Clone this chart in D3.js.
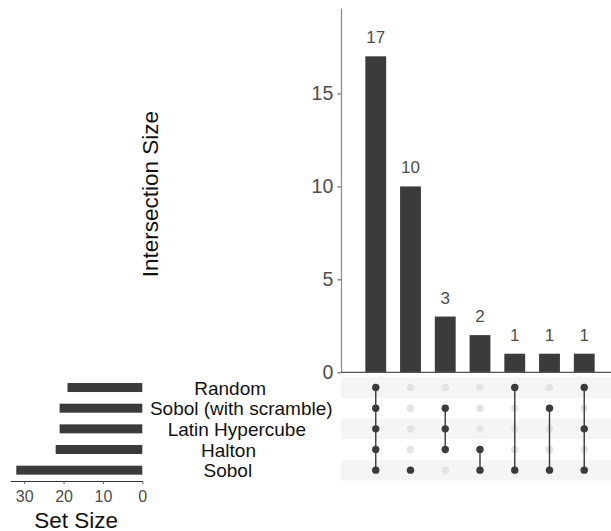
<!DOCTYPE html>
<html>
<head>
<meta charset="utf-8">
<script src="https://cdn.jsdelivr.net/npm/d3@7"></script>
<style>
  html, body { margin: 0; padding: 0; background: #fff; }
  svg { display: block; font-family: "Liberation Sans", Arial, sans-serif; }
</style>
</head>
<body>
<svg id="chart" width="611" height="531"></svg>
<script>
// Sets, from top row to bottom row of the matrix
const sets = ["Random", "Sobol (with scramble)", "Latin Hypercube", "Halton", "Sobol"];
const setSizes = [19, 21, 21, 22, 32];

// Intersections, ordered by size
const intersectionSizes = [17, 10, 3, 2, 1, 1, 1];
const intersectionMembers = [
  ["Random", "Sobol (with scramble)", "Latin Hypercube", "Halton", "Sobol"],
  ["Sobol"],
  ["Sobol (with scramble)", "Latin Hypercube", "Halton"],
  ["Halton", "Sobol"],
  ["Random", "Sobol"],
  ["Sobol (with scramble)", "Sobol"],
  ["Random", "Latin Hypercube", "Sobol"]
];

const yTicks = [0, 5, 10, 15];
const setTicks = [0, 10, 20, 30];

const svg = d3.select("#chart");
const W = 611;
const dark = "#3b3b3b";
const tickGrey = "#4d4d4d";

// ---- layout ----
const matrixLeft = 341;
const colStep = 34.75;
const x = d3.scaleLinear().domain([0, 8]).range([matrixLeft, matrixLeft + 8 * colStep]);
const colX = i => x(i + 1);

const y = d3.scaleLinear().domain([0, 19.6]).range([372.3, 8]);

const row = d3.scaleBand().domain(sets).range([377.2, 480.5]).padding(0);
const rowY = s => row(s) + row.bandwidth() / 2;

const sx = d3.scaleLinear().domain([0, 33.6]).range([142.3, 10]);

// ---- intersection size bars ----
const barW = colStep * 0.6;
const main = svg.append("g");
main.selectAll("rect.bar")
  .data(intersectionSizes)
  .join("rect")
  .attr("class", "bar")
  .attr("x", (d, i) => colX(i) - barW / 2)
  .attr("width", barW)
  .attr("y", d => y(d))
  .attr("height", d => y(0) - y(d))
  .attr("fill", dark);

main.selectAll("text.val")
  .data(intersectionSizes)
  .join("text")
  .attr("class", "val")
  .attr("x", (d, i) => colX(i))
  .attr("y", d => y(d) - 13)
  .attr("text-anchor", "middle")
  .attr("font-size", 17)
  .attr("fill", tickGrey)
  .text(d => d);

// y axis
const yAxis = svg.append("g")
  .attr("transform", `translate(${matrixLeft},0)`)
  .call(d3.axisLeft(y).tickValues(yTicks).tickSize(3.7).tickPadding(4).tickSizeOuter(0));
yAxis.select(".domain").attr("stroke", "#8a8a8a").attr("stroke-width", 1.2);
yAxis.selectAll(".tick line").attr("stroke", "#555");
yAxis.selectAll(".tick text")
  .attr("font-size", 19.5)
  .attr("fill", tickGrey)
  .attr("font-family", "Liberation Sans, Arial, sans-serif");

// baseline of the bar panel
svg.append("line")
  .attr("x1", matrixLeft).attr("x2", W)
  .attr("y1", y(0)).attr("y2", y(0))
  .attr("stroke", "#555").attr("stroke-width", 1.2);

svg.append("text")
  .attr("transform", `translate(157.5,${(y.range()[0] + y.range()[1]) / 2 + 4}) rotate(-90)`)
  .attr("text-anchor", "middle")
  .attr("font-size", 22.5)
  .attr("fill", "#111")
  .text("Intersection Size");

// ---- matrix ----
const matrix = svg.append("g");
matrix.selectAll("rect.band")
  .data(sets.filter((s, i) => i % 2 === 0))
  .join("rect")
  .attr("class", "band")
  .attr("x", matrixLeft)
  .attr("width", W - matrixLeft)
  .attr("y", s => row(s))
  .attr("height", row.bandwidth())
  .attr("fill", "#f5f5f5");

// inactive dots
const cells = [];
intersectionMembers.forEach((m, i) => sets.forEach(s => cells.push({ i, s, on: m.includes(s) })));
matrix.selectAll("circle.off")
  .data(cells.filter(c => !c.on))
  .join("circle")
  .attr("class", "off")
  .attr("cx", c => colX(c.i))
  .attr("cy", c => rowY(c.s))
  .attr("r", 3.7)
  .attr("fill", "#e3e3e3");

// connecting lines
matrix.selectAll("line.link")
  .data(intersectionMembers.map((m, i) => ({ i, ys: m.map(rowY) })).filter(d => d.ys.length > 1))
  .join("line")
  .attr("class", "link")
  .attr("x1", d => colX(d.i)).attr("x2", d => colX(d.i))
  .attr("y1", d => d3.min(d.ys)).attr("y2", d => d3.max(d.ys))
  .attr("stroke", dark)
  .attr("stroke-width", 1.4);

matrix.selectAll("circle.on")
  .data(cells.filter(c => c.on))
  .join("circle")
  .attr("class", "on")
  .attr("cx", c => colX(c.i))
  .attr("cy", c => rowY(c.s))
  .attr("r", 3.7)
  .attr("fill", dark);

// ---- set names ----
const names = svg.append("g");
names.selectAll("text")
  .data(sets)
  .join("text")
  .attr("y", s => rowY(s) + 7)
  .attr("font-size", 19)
  .attr("fill", "#111")
  .text(s => s)
  .each(function () {
    const w = this.getComputedTextLength();
    d3.select(this).attr("x", 223 - 0.4 * w);
  });

// ---- set size bars ----
const setBarH = 9;
svg.append("g").selectAll("rect")
  .data(sets)
  .join("rect")
  .attr("x", (s, i) => sx(setSizes[i]))
  .attr("width", (s, i) => sx(0) - sx(setSizes[i]))
  .attr("y", s => rowY(s) - setBarH / 2)
  .attr("height", setBarH)
  .attr("fill", dark);

const sAxis = svg.append("g")
  .attr("transform", "translate(0,481)")
  .call(d3.axisBottom(sx).tickValues(setTicks).tickSize(3).tickPadding(7).tickSizeOuter(0));
sAxis.select(".domain").attr("stroke", "#333").attr("stroke-width", 1.2);
sAxis.selectAll(".tick line").attr("stroke", "#555");
sAxis.selectAll(".tick text")
  .attr("font-size", 16)
  .attr("fill", tickGrey)
  .attr("font-family", "Liberation Sans, Arial, sans-serif");

svg.append("text")
  .attr("x", (sx.range()[0] + sx.range()[1]) / 2)
  .attr("y", 527.5)
  .attr("text-anchor", "middle")
  .attr("font-size", 22.5)
  .attr("fill", "#111")
  .text("Set Size");
</script>
</body>
</html>
